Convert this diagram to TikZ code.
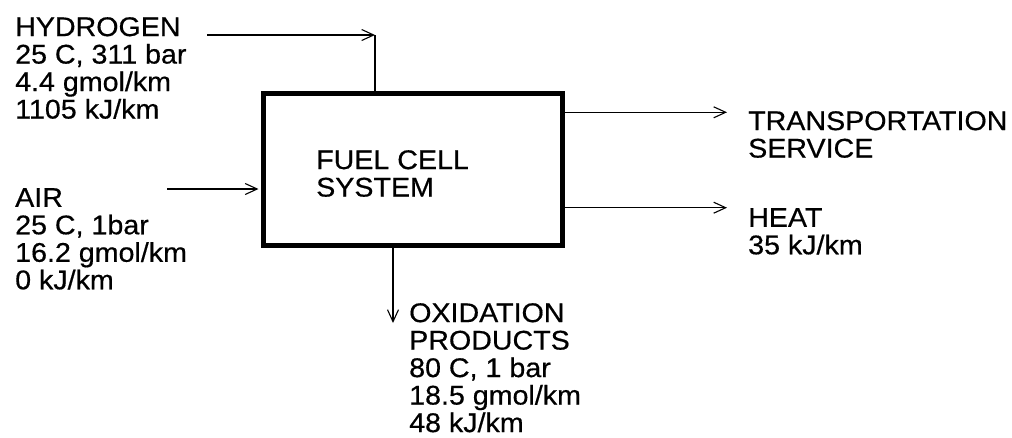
\documentclass[tikz,border=0pt]{standalone}
\usepackage{fontspec}
\setmainfont[FakeStretch=1.06,FakeBold=0.5]{Liberation Sans}
\usetikzlibrary{arrows.meta,calc}
\begin{document}
\begin{tikzpicture}[x=1pt,y=-1pt,
  lbl/.style={anchor=north west,inner sep=0pt,align=left,font=\fontsize{27}{27.5}\selectfont},
  flow/.style={line width=1.1pt,-{Straight Barb[length=12pt,width=11pt,line width=1.1pt]}},
  plain/.style={line width=1.1pt},
  sysbox/.style={draw,line width=5pt,minimum width=299pt,minimum height=152pt,inner sep=0pt}]
\useasboundingbox[fill=white] (0,0) rectangle (1012,437);
\node[sysbox] (box) at (413,169.5) {};
\node[lbl] (sys) at (316,150) {FUEL CELL\\SYSTEM};
\node[lbl] (hyd) at (15,17) {HYDROGEN\\25 C, 311 bar\\4.4 gmol/km\\1105 kJ/km};
\node[lbl] (air) at (15,188) {AIR\\25 C, 1bar\\16.2 gmol/km\\0 kJ/km};
\node[lbl] (tra) at (748,111) {TRANSPORTATION\\SERVICE};
\node[lbl] (heat) at (748,208) {HEAT\\35 kJ/km};
\node[lbl] (oxi) at (409,303) {OXIDATION\\PRODUCTS\\80 C, 1 bar\\18.5 gmol/km\\48 kJ/km};
\coordinate (h0) at (207,35);
\coordinate (hc) at (375,35);
\coordinate (a0) at (167,189);
\coordinate (t1) at (727,112.3);
\coordinate (t2) at (727,207.7);
\coordinate (ox) at (393,323);
\draw[flow] (h0) -- (hc);
\draw[plain] (hc) -- (hc |- box.north);
\draw[flow,shorten >=2.5pt] (a0) -- (a0 -| box.west);
\draw[flow] (t1 -| box.east) -- (t1);
\draw[flow] (t2 -| box.east) -- (t2);
\draw[flow] (ox |- box.south) -- (ox);
\end{tikzpicture}
\end{document}
